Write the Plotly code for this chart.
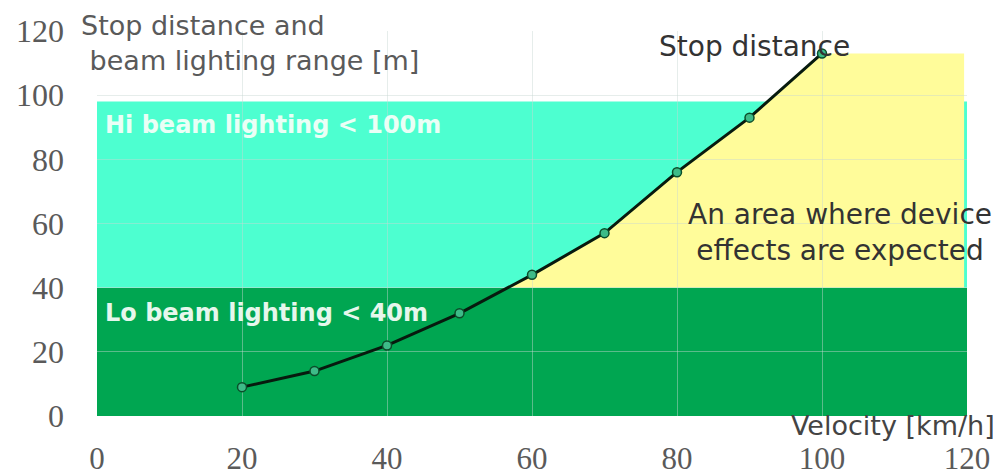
import plotly.graph_objects as go

# ---- data ----
velocity = [20, 30, 40, 50, 60, 70, 80, 90, 100]          # km/h
stop_distance = [9, 14, 22, 32, 44, 57, 76, 93, 113]      # m
x_ticks = [0, 20, 40, 60, 80, 100, 120]
y_ticks = [0, 20, 40, 60, 80, 100, 120]
lo_beam = 40          # drawn lo-beam band top
hi_beam = 98          # drawn hi-beam band top
x_max = 120
yellow_right = 119.6

GREEN = "#00A651"
CYAN = "#4DFFD0"
YELLOW = "#FFFC9A"

# crossing of stop distance curve with lo beam level
cross_x = None
for i in range(1, len(velocity)):
    if stop_distance[i - 1] <= lo_beam <= stop_distance[i]:
        x0, x1 = velocity[i - 1], velocity[i]
        y0, y1 = stop_distance[i - 1], stop_distance[i]
        cross_x = x0 + (lo_beam - y0) * (x1 - x0) / (y1 - y0)
        break

poly = [(cross_x, lo_beam)]
poly += [(vx, sd) for vx, sd in zip(velocity, stop_distance) if sd > lo_beam]
poly += [(yellow_right, stop_distance[-1]), (yellow_right, lo_beam)]
path = "M " + " L ".join(f"{px},{py}" for px, py in poly) + " Z"

fig = go.Figure()

fig.add_trace(go.Scatter(
    x=velocity, y=stop_distance, mode="lines+markers",
    line=dict(color="#071a0e", width=3),
    marker=dict(size=9, color="#3DBB88", line=dict(color="#0b4d2a", width=1.5)),
    showlegend=False, hoverinfo="skip", cliponaxis=False,
))

shapes = [
    dict(type="rect", xref="x", yref="y", x0=0, x1=x_max, y0=0, y1=lo_beam,
         fillcolor=GREEN, line=dict(width=0), layer="below"),
    dict(type="rect", xref="x", yref="y", x0=0, x1=x_max, y0=lo_beam, y1=hi_beam,
         fillcolor=CYAN, line=dict(width=0), layer="below"),
    dict(type="path", xref="x", yref="y", path=path,
         fillcolor=YELLOW, line=dict(width=0), layer="below"),
]

sans = "DejaVu Sans"
annotations = [
    dict(x=-0.0205, y=0.968, xref="paper", yref="paper", xanchor="left", yanchor="middle",
         text="Stop distance and<br> beam lighting range [m]", align="left",
         showarrow=False, font=dict(family=sans, size=27, color="#5a5a5a")),
    dict(x=0.8, y=90.7, xref="x", yref="y", xanchor="left", yanchor="middle",
         text="<b>Hi beam lighting &lt; 100m</b>", showarrow=False,
         font=dict(family=sans, size=24, color="#eafff6")),
    dict(x=0.8, y=32, xref="x", yref="y", xanchor="left", yanchor="middle",
         text="<b>Lo beam lighting &lt; 40m</b>", showarrow=False,
         font=dict(family=sans, size=24, color="#e6f7ec")),
    dict(x=77.2, y=115.3, xref="x", yref="y", xanchor="left", yanchor="middle",
         text="Stop distance", showarrow=False,
         font=dict(family=sans, size=28, color="#333333")),
    dict(x=102.5, y=57.3, xref="x", yref="y", xanchor="center", yanchor="middle",
         text="An area where device<br>effects are expected", align="center",
         showarrow=False, font=dict(family=sans, size=28, color="#333333")),
    dict(x=1.0345, y=-0.024, xref="paper", yref="paper", xanchor="right", yanchor="middle",
         text="Velocity [km/h]", showarrow=False,
         font=dict(family=sans, size=27, color="#444444")),
]

grid = "rgba(200,215,210,0.45)"
# the page body adds an 8px offset, so the figure is 8px smaller each way
fig.update_layout(
    width=993, height=467,
    margin=dict(l=89, r=34, t=23, b=59),
    paper_bgcolor="white", plot_bgcolor="white",
    shapes=shapes, annotations=annotations,
    xaxis=dict(range=[0, x_max], tickvals=x_ticks, showgrid=True, gridcolor=grid,
               zeroline=False, showline=False, ticks="", ticklabelstandoff=21,
               automargin=False,
               tickfont=dict(family="Liberation Serif", size=31, color="#5a5a5a")),
    yaxis=dict(range=[0, 120], tickvals=y_ticks, showgrid=True, gridcolor=grid,
               zeroline=False, showline=False, ticks="", ticklabelstandoff=32,
               automargin=False,
               tickfont=dict(family="Liberation Serif", size=32, color="#5a5a5a")),
)

fig.write_html("out.html")
